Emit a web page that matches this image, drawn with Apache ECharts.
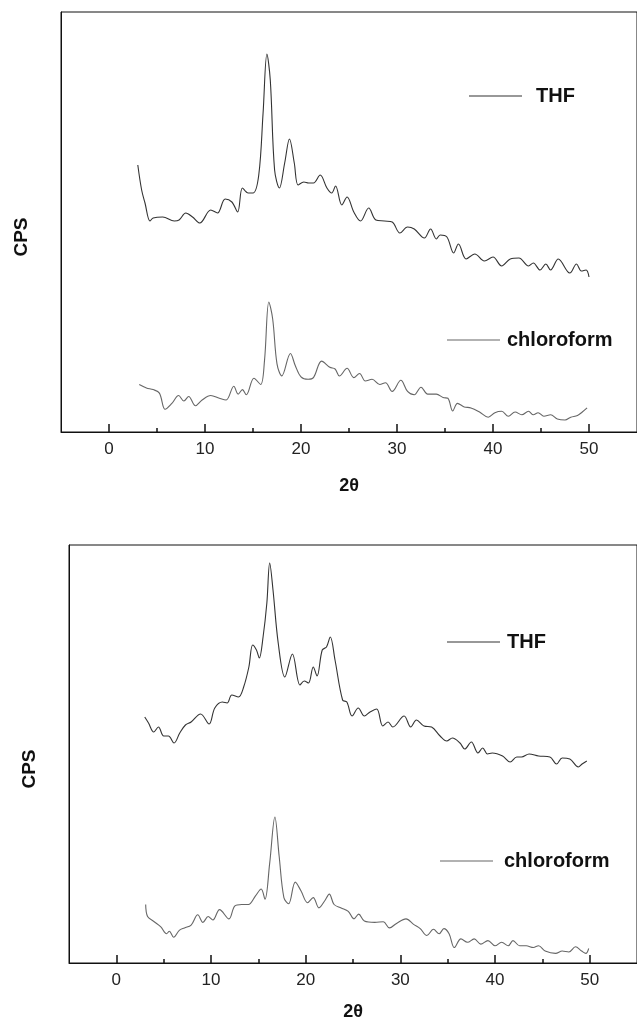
<!DOCTYPE html>
<html>
<head>
<meta charset="utf-8">
<script src="https://cdn.jsdelivr.net/npm/echarts@6/dist/echarts.min.js"></script>
<style>html,body{margin:0;padding:0;background:#fff}#c{width:637px;height:1023px}</style>
</head>
<body>
<div id="c"></div>
<script>
// ---- data (2θ in degrees, CPS in arbitrary units) ----
var tickLabels = [0, 10, 20, 30, 40, 50];
var minorTicks = [5, 15, 25, 35, 45];

// top panel, THF
var thfTopX = [3.0,3.4,3.75,4.27,4.6,5.6,6.8,7.3,8.0,8.7,9.46,10.6,11.3,12.1,12.8,13.4,13.9,14.5,15.0,15.6,16.05,16.45,16.8,17.25,17.75,18.3,18.8,19.3,19.7,20.3,20.8,21.3,22.0,22.7,23.2,23.6,24.25,24.8,25.5,26.2,27.05,27.8,28.7,29.5,30.3,31.1,31.8,32.85,33.5,34.1,34.5,35.2,35.9,36.4,37.2,38.1,39.1,40.0,40.9,41.8,42.7,43.7,44.2,44.9,45.5,46.0,46.8,48.0,48.7,49.2,49.7,50.0];
var thfTopY = [267,242,229,211,214,215,211,212,219,215,209,222,219,233,230,220,244,239,239,257,319,378,352,262,244,269,293,269,247,250,249,249,257,244,239,246,227,235,220,211,224,212,211,210,199,205,203,194,203,193,197,195,179,188,173,178,171,175,166,173,174,166,169,162,168,162,173,159,168,161,162,155];

// top panel, chloroform
var chlTopX = [3.15,3.9,4.6,5.25,5.85,6.55,7.25,7.8,8.3,9.0,9.7,10.6,11.5,12.2,13.0,13.45,13.9,14.3,15.1,15.8,16.2,16.65,17.05,17.5,18.0,18.9,19.4,20.0,20.75,21.3,22.15,23.0,23.55,24.0,24.8,25.5,26.1,26.7,27.4,28.2,28.8,29.5,30.4,31.1,31.8,32.5,33.2,34.1,34.8,35.3,35.8,36.3,37.0,37.7,38.6,39.5,40.2,40.9,41.6,42.3,43.0,43.7,44.2,44.7,45.3,46.0,46.7,47.5,48.1,48.8,49.3,49.8];
var chlTopY = [47.5,44.1,42.4,38.9,22.7,28.6,36.5,31,35.5,26.2,32,36.5,33.7,32,45.8,37.9,42.4,37.2,53.7,47.5,71.6,130,113,68.2,56.1,78.5,66.5,55.1,52.7,54.4,70.9,64.7,63,56,63.7,54.4,58.5,51,52.7,47.5,49.2,40.6,51.7,40.6,37.2,44.8,37.9,37.9,34.4,33.7,21,28.6,25.1,24.1,20,14.8,19.3,20.7,15.8,20,17.2,20.7,17.2,19.3,15.8,17.2,13.1,12,14.8,16.5,20,24.1];

// bottom panel, THF
var thfBotX = [3.0,3.4,3.95,4.45,5.0,5.5,6.1,6.7,7.3,7.9,8.9,9.8,10.4,11.2,11.7,12.2,12.9,13.45,14.0,14.4,14.8,15.1,15.5,15.9,16.2,16.55,17.1,17.8,18.6,19.4,19.85,20.3,20.8,21.2,21.75,22.2,22.6,23.1,23.9,24.35,24.9,25.55,26.2,26.8,27.5,28.15,28.7,29.2,30.4,31.1,31.7,32.5,33.3,34.2,34.9,35.5,36.3,36.8,37.5,38.2,38.7,39.2,39.7,40.8,41.6,42.3,42.8,43.6,44.6,45.8,46.5,47.1,47.9,48.8,49.2,49.7];
var thfBotY = [246,240,231,236,227,227,220,230,238,241,249,239,255,261,260,268,266,276,296,318,313,305,326,360,400,373,320,286,309,278,282,280,296,287,313,316,326,303,263,261,247,255,247,251,254,237,241,236,247,236,243,237,236,227,222,225,220,214,221,210,215,209,210,207,201,206,206,209,207,206,199,205,204,196,199,202];

// bottom panel, chloroform
var chlBotX = [3.1,3.3,4.0,4.7,5.3,5.6,6.05,6.65,7.2,7.9,8.6,9.15,9.7,10.2,10.9,11.9,12.5,13.25,13.95,14.7,15.3,15.7,16.2,16.75,17.2,17.7,18.2,18.9,19.5,20.2,20.8,21.4,22.0,22.5,23.0,23.75,24.5,25.1,25.6,26.2,27.3,28.2,28.85,29.6,30.6,31.4,32.1,32.8,33.5,34.1,34.6,35.15,35.7,36.4,37.1,37.8,38.5,39.25,40.0,40.7,41.4,41.9,42.6,43.3,44.05,44.6,45.3,46.4,47.1,47.8,48.5,49.15,49.6,49.9];
var chlBotY = [58.5,46.5,41.3,36.2,29.3,31.7,25.8,32.7,35.1,37.9,48.2,40.6,46.5,43,53.4,44.1,56.8,58.5,58.5,67.1,74,63.7,99.9,146,106.7,65.4,59.2,80.9,72.3,60.3,65.4,55.1,62,68.9,58.5,55.1,51.7,44.1,48.9,42,40.6,41.3,35.1,39.6,44.1,38.6,34.4,27.5,33.7,29.3,34.4,29.3,15.5,24.1,20.7,24.1,18.9,22.4,17.2,20.7,17.2,22.4,17.2,17.2,15.5,17.2,12,9.6,12,11,16.2,12,9.6,14.5];

function zip(xs, ys) { return xs.map(function (x, i) { return [x, ys[i]]; }); }

var FONT = '"Liberation Sans", Arial, Helvetica, sans-serif';
var chart = echarts.init(document.getElementById('c'), null, {renderer: 'canvas'});

function xMain(grid, gap) {
  return {
    type: 'value', gridIndex: grid, min: -5, max: 55, position: 'bottom',
    name: '2θ', nameLocation: 'middle', nameGap: gap,
    nameTextStyle: {fontFamily: FONT, fontWeight: 'bold', fontSize: 18, color: '#111'},
    axisLine: {show: true, onZero: false, lineStyle: {color: '#111', width: 1}},
    axisTick: {show: true, inside: true, length: 8, customValues: tickLabels, lineStyle: {color: '#111', width: 1.5}},
    axisLabel: {show: true, customValues: tickLabels, margin: 9, fontFamily: FONT, fontSize: 17, color: '#222'},
    splitLine: {show: false}
  };
}
function xMinor(grid) {
  return {
    type: 'value', gridIndex: grid, min: -5, max: 55, position: 'bottom',
    axisLine: {show: false, onZero: false},
    axisTick: {show: true, inside: true, length: 4, customValues: minorTicks, lineStyle: {color: '#111', width: 1.5}},
    axisLabel: {show: false},
    splitLine: {show: false}
  };
}
function yAx(grid, max) {
  return {
    type: 'value', gridIndex: grid, min: 0, max: max, position: 'left',
    name: 'CPS', nameLocation: 'middle', nameGap: 30,
    nameTextStyle: {fontFamily: FONT, fontWeight: 'bold', fontSize: 19, color: '#111', padding: [0, 30, 0, 0]},
    axisLine: {show: true, onZero: false, lineStyle: {color: '#111', width: 1}},
    axisTick: {show: false}, axisLabel: {show: false}, splitLine: {show: false}
  };
}
function legendAt(name, left, top, gap) {
  return {
    data: [name], left: left, top: top, padding: 0, orient: 'horizontal',
    icon: 'rect', itemWidth: 53, itemHeight: 1, selectedMode: false,
    textStyle: {fontFamily: FONT, fontWeight: 'bold', fontSize: 20, color: '#111', padding: [0, 0, 0, gap]}
  };
}
function lineSeries(name, xi, yi, data, color) {
  return {
    name: name, type: 'line', xAxisIndex: xi, yAxisIndex: yi, data: data,
    showSymbol: false, symbol: 'none', smooth: 0.35, animation: false,
    lineStyle: {color: color, width: 1.1}, itemStyle: {color: color}
  };
}

chart.setOption({
  animation: false,
  backgroundColor: '#fff',
  grid: [
    {left: 61, top: 12, width: 587, height: 420, show: true, borderColor: '#111', borderWidth: 1, backgroundColor: 'transparent'},
    {left: 69, top: 545, width: 578, height: 418, show: true, borderColor: '#111', borderWidth: 1, backgroundColor: 'transparent'}
  ],
  xAxis: [xMain(0, 45), xMinor(0), xMain(1, 40), xMinor(1)],
  yAxis: [yAx(0, 420), yAx(1, 418)],
  legend: [
    legendAt('THF', 469, 86, 9),
    legendAt('chloroform', 447, 330, 2),
    legendAt('THF ', 447, 632, 2),
    legendAt('chloroform ', 440, 851, 6)
  ],
  series: [
    lineSeries('THF', 0, 0, zip(thfTopX, thfTopY), '#333'),
    lineSeries('chloroform', 0, 0, zip(chlTopX, chlTopY), '#666'),
    lineSeries('THF ', 2, 1, zip(thfBotX, thfBotY), '#333'),
    lineSeries('chloroform ', 2, 1, zip(chlBotX, chlBotY), '#666')
  ]
});
</script>
</body>
</html>
